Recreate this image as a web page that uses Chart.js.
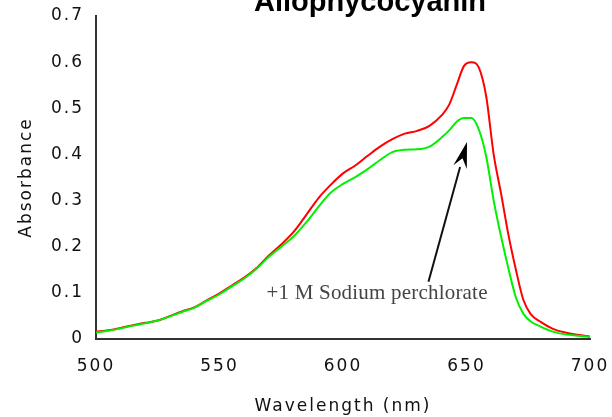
<!DOCTYPE html>
<html>
<head>
<meta charset="utf-8">
<script src="https://cdn.jsdelivr.net/npm/chart.js@4"></script>
<style>
  html, body { margin: 0; padding: 0; background: #fff; }
  #wrap { width: 612px; height: 417px; position: relative; }
</style>
</head>
<body>
<div id="wrap"><canvas id="c" width="612" height="417"></canvas></div>
<script>
// ---- data ----
const chartTitle = 'Allophycocyanin';
const xTitle = 'Wavelength (nm)';
const yTitle = 'Absorbance';
const annotationLabel = '+1 M Sodium perchlorate';

const wavelengths = [500,505,510,515,520,525,530,535,540,545,550,555,560,565,570,575,580,585,590,595,600,605,610,615,620,625,630,635,640,643,646,649,652,655,658,661,664,667,670,673,676,680,685,690,695,700];

const absControl = [0.016,0.019,0.024,0.030,0.035,0.040,0.050,0.060,0.069,0.084,0.099,0.116,0.133,0.154,0.181,0.205,0.232,0.268,0.305,0.334,0.359,0.376,0.397,0.417,0.433,0.445,0.451,0.462,0.485,0.508,0.550,0.592,0.600,0.588,0.525,0.400,0.315,0.225,0.150,0.085,0.054,0.037,0.022,0.014,0.009,0.005];

const absPerchlorate = [0.014,0.018,0.023,0.029,0.034,0.040,0.049,0.059,0.068,0.083,0.097,0.114,0.131,0.152,0.178,0.200,0.222,0.252,0.286,0.317,0.336,0.351,0.368,0.388,0.405,0.410,0.411,0.417,0.437,0.452,0.471,0.479,0.479,0.454,0.395,0.300,0.222,0.152,0.090,0.055,0.038,0.027,0.016,0.010,0.007,0.005];

const xTicks = [500,550,600,650,700];
const yTicks = [0,0.1,0.2,0.3,0.4,0.5,0.6,0.7];

// ---- chart ----
const toPts = (xs, ys) => xs.map((x, i) => ({x: x, y: ys[i]}));

const spacingPlugin = {
  id: 'spacing',
  beforeDraw(chart) { chart.ctx.letterSpacing = '2px'; },
  afterDraw(chart) { chart.ctx.letterSpacing = '0px'; }
};

const overlayPlugin = {
  id: 'overlay',
  afterDraw(chart) {
    const ctx = chart.ctx;
    const xs = chart.scales.x, ys = chart.scales.y;
    ctx.save();
    ctx.letterSpacing = '0px';
    // title (partly clipped at top like the original)
    ctx.fillStyle = '#000';
    ctx.font = 'bold 29px "Liberation Sans", Arial, sans-serif';
    ctx.textAlign = 'center';
    ctx.textBaseline = 'alphabetic';
    ctx.fillText(chartTitle, 370, 11);

    // arrow (data coordinates)
    const x0 = xs.getPixelForValue(634.6), y0 = ys.getPixelForValue(0.124);
    const x1 = xs.getPixelForValue(650.2), y1 = ys.getPixelForValue(0.427);
    const ang = Math.atan2(y1 - y0, x1 - x0);
    const headLen = 26, headW = 7;
    const bx = x1 - headLen * Math.cos(ang), by = y1 - headLen * Math.sin(ang);
    ctx.strokeStyle = '#111';
    ctx.lineWidth = 2;
    ctx.beginPath();
    ctx.moveTo(x0, y0);
    ctx.lineTo(bx, by);
    ctx.stroke();
    ctx.fillStyle = '#000';
    ctx.beginPath();
    ctx.moveTo(x1, y1);
    ctx.lineTo(bx + headW * Math.sin(ang), by - headW * Math.cos(ang));
    ctx.lineTo(bx + 0.35 * headLen * Math.cos(ang), by + 0.35 * headLen * Math.sin(ang));
    ctx.lineTo(bx - headW * Math.sin(ang), by + headW * Math.cos(ang));
    ctx.closePath();
    ctx.fill();

    // annotation text
    ctx.fillStyle = '#444';
    ctx.font = '21px "Liberation Serif", "Times New Roman", serif';
    ctx.letterSpacing = '0.2px';
    ctx.textAlign = 'center';
    ctx.textBaseline = 'middle';
    ctx.fillText(annotationLabel, xs.getPixelForValue(613.8), ys.getPixelForValue(0.099));
    ctx.restore();
  }
};

const tickFont = { family: '"DejaVu Sans", Verdana, sans-serif', size: 17 };
const zeroPad = s => { s.paddingLeft = 0; s.paddingRight = 0; s.paddingTop = 0; s.paddingBottom = 0; };

new Chart(document.getElementById('c'), {
  type: 'line',
  data: {
    datasets: [
      { label: '+1 M Sodium perchlorate', data: toPts(wavelengths, absPerchlorate),
        borderColor: '#00f000', borderWidth: 2, pointRadius: 0, cubicInterpolationMode: 'monotone', fill: false },
      { label: 'Control', data: toPts(wavelengths, absControl),
        borderColor: '#ff0000', borderWidth: 2, pointRadius: 0, cubicInterpolationMode: 'monotone', fill: false }
    ]
  },
  options: {
    responsive: false,
    animation: false,
    devicePixelRatio: 1,
    layout: { padding: { left: 0, right: 22, top: 16, bottom: 0 } },
    plugins: { legend: { display: false }, title: { display: false }, tooltip: { enabled: false } },
    scales: {
      x: {
        type: 'linear', min: 500, max: 700,
        afterFit(s) { s.height = 78; zeroPad(s); },
        afterBuildTicks(s) { s.ticks = xTicks.map(v => ({ value: v })); },
        grid: { display: false, drawTicks: false },
        border: { display: true, color: '#333', width: 2 },
        ticks: { color: '#111', font: tickFont, padding: 17, maxRotation: 0, autoSkip: false },
        title: { display: true, text: xTitle, color: '#111', font: tickFont, padding: { top: 0, bottom: 0 } }
      },
      y: {
        type: 'linear', min: 0, max: 0.7,
        afterFit(s) { s.width = 96; zeroPad(s); },
        afterBuildTicks(s) { s.ticks = yTicks.map(v => ({ value: v })); },
        grid: { display: false, drawTicks: false },
        border: { display: true, color: '#333', width: 2 },
        ticks: { color: '#111', font: tickFont, padding: 12, autoSkip: false,
                 callback: v => (v === 0 ? '0' : v.toFixed(1)) },
        title: { display: true, text: yTitle, color: '#111', font: tickFont, padding: { top: 16, bottom: 0 } }
      }
    }
  },
  plugins: [spacingPlugin, overlayPlugin]
});
</script>
</body>
</html>
